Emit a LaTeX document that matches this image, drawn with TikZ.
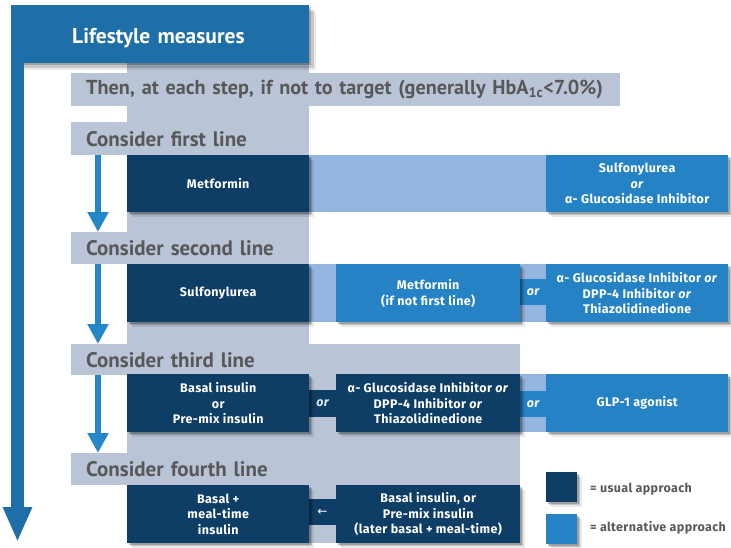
\documentclass[tikz,border=0pt]{standalone}
\usepackage{fontspec}
\setmainfont{PT Sans}
\newfontfamily\boxfont[LetterSpace=3]{Fira Sans}
\newfontfamily\sym{DejaVu Sans}
\usetikzlibrary{arrows.meta,shadows}
\definecolor{lifeblue}{HTML}{1E6EA7}
\definecolor{greybg}{HTML}{B9C4D7}
\definecolor{darkbox}{HTML}{0E3E66}
\definecolor{medbox}{HTML}{2583C5}
\definecolor{lightband}{HTML}{94B5DF}
\definecolor{arrowblue}{HTML}{2586C8}
\definecolor{headtext}{HTML}{585858}
\tikzset{
  softshadow/.style={
    drop shadow={shadow xshift=1.5pt,shadow yshift=-1.5pt,opacity=.2,fill=black},
    drop shadow={shadow xshift=3pt,shadow yshift=-3pt,opacity=.15,fill=black},
    drop shadow={shadow xshift=4.5pt,shadow yshift=-4.5pt,opacity=.09,fill=black}},
  bigshadow/.style={
    drop shadow={shadow xshift=2pt,shadow yshift=-2pt,opacity=.2,fill=black},
    drop shadow={shadow xshift=4.5pt,shadow yshift=-4.5pt,opacity=.15,fill=black},
    drop shadow={shadow xshift=7pt,shadow yshift=-7pt,opacity=.08,fill=black}},
  headbar/.style={fill=greybg, anchor=north west, inner xsep=15pt, inner ysep=0pt,
    align=left, text=headtext, font=\bfseries\fontsize{21}{24}\selectfont},
  boxbase/.style={anchor=north west, inner sep=0pt, align=center, text=white,
    font=\boxfont\bfseries\fontsize{12.5}{15.5}\selectfont},
  usualbox/.style={boxbase, fill=darkbox, softshadow},
  altbox/.style={boxbase, fill=medbox, softshadow},
  wide/.style={minimum width=182pt, minimum height=58pt},
  wider/.style={minimum width=184pt, minimum height=58pt},
  ortext/.style={text=white, font=\boxfont\bfseries\itshape\fontsize{12.5}{13}\selectfont, inner sep=0pt},
  smallarrow/.style={draw=arrowblue, line width=6.5pt, -{Triangle[width=20pt,length=20pt]}},
  bigarrow/.style={draw=lifeblue, line width=13pt, -{Triangle[width=27pt,length=35pt]}},
  legtext/.style={anchor=west, text=headtext, inner sep=0pt, font=\boxfont\bfseries\fontsize{12.5}{13}\selectfont}
}
\begin{document}
\begin{tikzpicture}[x=1pt,y=-1pt]
\useasboundingbox (0,0) rectangle (731,547);
% grey backgrounds
\fill[greybg] (127,60) rectangle (309,346);
\fill[greybg] (127,344) rectangle (520,543);
\node[headbar, minimum height=33pt, text width=519pt, font=\bfseries\fontsize{20.2}{24}\selectfont] (bar0) at (71,73)
  {Then, at each step, if not to target (generally HbA\textsubscript{1c}<7.0\%)};
\node[headbar, minimum height=33pt, text width=208pt] (bar1) at (71,122) {Consider first line};
\node[headbar, minimum height=32pt, text width=208pt] (bar2) at (71,232) {Consider second line};
\node[headbar, minimum height=31pt, text width=419pt] (bar3) at (71,344) {Consider third line};
\node[headbar, minimum height=32pt, text width=419pt] (bar4) at (71,453) {Consider fourth line};
% lifestyle
\node[fill=lifeblue, bigshadow, anchor=north west, minimum height=58pt, text width=176pt,
  inner xsep=61pt, inner ysep=0pt, align=left, text=white, text height=18pt, text depth=0pt,
  font=\bfseries\fontsize{21.5}{24}\selectfont] (life) at (11,5) {\mbox{Lifestyle measures}};
\coordinate (bigend) at (17.5,542);
\draw[bigarrow] ([xshift=6.5pt]life.south west) -- (bigend);
% small arrows
\draw[smallarrow] ([xshift=27pt]bar1.south west) -- ([xshift=27pt]bar2.north west);
\draw[smallarrow] ([xshift=27pt]bar2.south west) -- ([xshift=27pt]bar3.north west);
\draw[smallarrow] ([xshift=27pt]bar3.south west) -- ([xshift=27pt]bar4.north west);
% bands
\fill[lightband] (309,155) rectangle (546,212);
\fill[lightband] (309,264) rectangle (546,322);
\fill[lightband] (520,374) rectangle (546,432);
% strips
\node[fill=medbox, minimum width=30pt, minimum height=26pt, inner sep=0pt] (or2) at (533,292) {};
\node[ortext] at (or2) {or};
\node[fill=darkbox, minimum width=34pt, minimum height=27pt, inner sep=0pt] (or3l) at (322.5,403.5) {};
\node[ortext, text=white!88!darkbox] at (or3l) {or};
\node[fill=medbox, minimum width=30pt, minimum height=26pt, inner sep=0pt] (or3r) at (533,404) {};
\node[ortext] at (or3r) {or};
\node[fill=darkbox, minimum width=34pt, minimum height=26pt, inner sep=0pt] (arr4) at (322.5,512) {};
\node[text=white, inner sep=0pt, font=\sym\fontsize{12}{13}\selectfont] at (arr4) {←};
% row 1
\node[usualbox, minimum width=182pt, minimum height=57pt] (m1) at (127,155) {Metformin};
\node[altbox, minimum width=182pt, minimum height=57pt] (a1) at (546,155)
  {Sulfonylurea\\\textit{or}\\α- Glucosidase Inhibitor};
% row 2
\node[usualbox, wide] (s2) at (127,264) {Sulfonylurea};
\node[altbox, wider] (a2a) at (336,264) {Metformin\\(if not first line)};
\node[altbox, wide] (a2b) at (546,264)
  {α- Glucosidase Inhibitor \textit{or}\\DPP-4 Inhibitor \textit{or}\\Thiazolidinedione};
% row 3
\node[usualbox, wide] (r3a) at (127,374) {Basal insulin\\or\\Pre-mix insulin};
\node[usualbox, wider] (r3b) at (336,374)
  {α- Glucosidase Inhibitor \textit{or}\\DPP-4 Inhibitor \textit{or}\\Thiazolidinedione};
\node[altbox, wide] (a3) at (546,374) {GLP-1 agonist};
% row 4
\node[usualbox, wide] (r4a) at (127,485) {Basal +\\meal-time\\insulin};
\node[usualbox, wider] (r4b) at (336,485)
  {Basal insulin, or\\Pre-mix insulin\\(later basal + meal-time)};
% legend
\node[usualbox, minimum width=31pt, minimum height=30pt] (leg1) at (546,472) {};
\node[altbox, minimum width=31pt, minimum height=30pt] (leg2) at (546,514) {};
\node[legtext] (leg1t) at (590,489) {= usual approach};
\node[legtext] (leg2t) at (590,528) {= alternative approach};
\end{tikzpicture}
\end{document}
